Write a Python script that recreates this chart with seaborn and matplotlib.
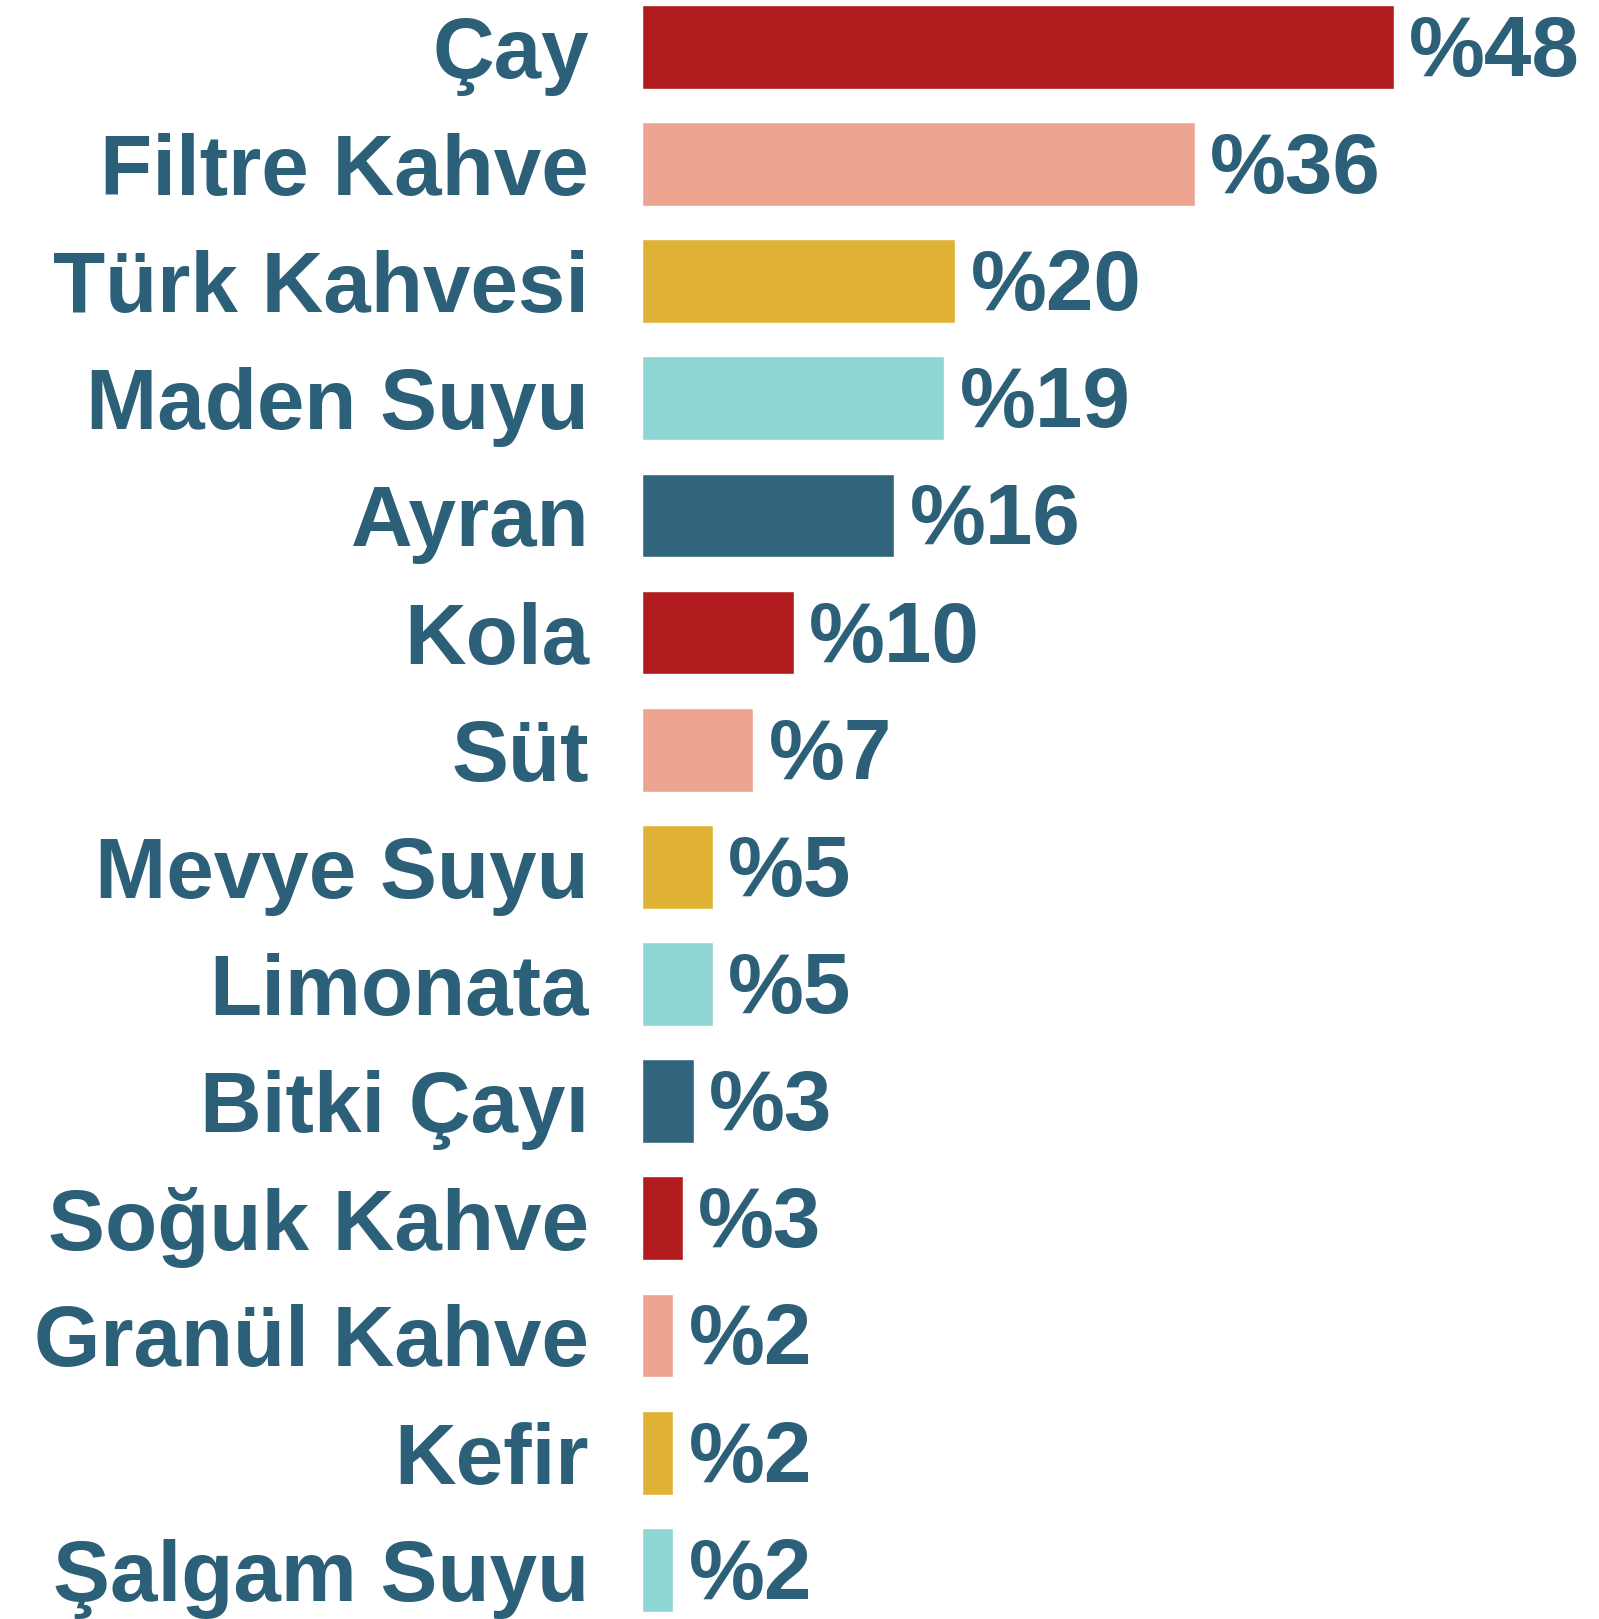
import matplotlib
matplotlib.use("Agg")
import matplotlib.pyplot as plt
import seaborn as sns

# --- data ---
drinks = ["Çay", "Filtre Kahve", "Türk Kahvesi", "Maden Suyu", "Ayran", "Kola", "Süt",
          "Mevye Suyu", "Limonata", "Bitki Çayı", "Soğuk Kahve", "Granül Kahve",
          "Kefir", "Şalgam Suyu"]
shares = [48, 35.3, 20.0, 19.3, 16.1, 9.7, 7.1, 4.5, 4.5, 3.3, 2.6, 2.0, 2.0, 2.0]
share_labels = ["%48", "%36", "%20", "%19", "%16", "%10", "%7", "%5", "%5", "%3", "%3",
                "%2", "%2", "%2"]
base_colors = ["#B31C1F", "#EDA490", "#DFB235", "#8ED5D4", "#31647D"]

TEXT = "#2C5F78"
sns.set_style("white")
plt.rcParams["font.family"] = ["Liberation Sans", "DejaVu Sans"]

palette = [base_colors[i % len(base_colors)] for i in range(len(drinks))]

fig = plt.figure(figsize=(15.99, 16.19), dpi=100)
ax = fig.add_axes([642 / 1599, 0, 1 - 642 / 1599, 1])

sns.barplot(x=shares, y=drinks, hue=drinks, palette=palette, legend=False,
            orient="h", width=0.715, saturation=1, ax=ax)

for cont, lab in zip(ax.containers, share_labels):
    for t in ax.bar_label(cont, labels=[lab], padding=11, fontsize=61.5,
                          fontweight="bold", color=TEXT):
        t.xyann = (11, -5)

ax.set_xlim(0, 61.08)
ax.set_ylim(13.42, -0.40)
ax.set_xlabel("")
ax.set_ylabel("")
ax.set_xticks([])
ax.tick_params(axis="y", length=0, pad=38, labelsize=61.5, labelcolor=TEXT)
for t in ax.get_yticklabels():
    t.set_fontweight("bold")
sns.despine(ax=ax, left=True, bottom=True)

fig.savefig("out.png", dpi=100)
